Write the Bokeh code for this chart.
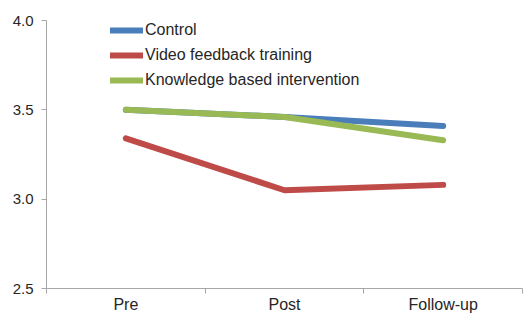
from bokeh.plotting import figure
from bokeh.models import FixedTicker, Range1d, Legend, LegendItem
from bokeh.embed import file_html
from bokeh.resources import INLINE

categories = ["Pre", "Post", "Follow-up"]
control = [3.50, 3.46, 3.41]
video = [3.34, 3.05, 3.08]
knowledge = [3.50, 3.46, 3.33]
y_ticks = [2.5, 3.0, 3.5, 4.0]

series = [
    ("Control", control, "#4a7ebb"),
    ("Video feedback training", video, "#be4b48"),
    ("Knowledge based intervention", knowledge, "#98b954"),
]

xs = [i + 0.5 for i in range(len(categories))]
bounds = list(range(len(categories) + 1))

p = figure(width=528, height=316, output_backend="svg", toolbar_location=None,
           x_range=Range1d(0, len(categories)), y_range=Range1d(2.5, 4.0),
           min_border_left=46, min_border_right=6, min_border_top=20, min_border_bottom=28)
p.outline_line_color = None
p.grid.visible = False
p.background_fill_color = "white"
p.border_fill_color = "white"

items = []
for name, vals, col in series:
    r = p.line(xs, vals, line_color=col, line_width=6, line_cap="round", line_join="round")
    items.append(LegendItem(label=name, renderers=[r]))

legend = Legend(items=items, location=(64, 198), glyph_width=33, glyph_height=20,
                label_height=20, spacing=5, padding=0, margin=0, label_standoff=2,
                border_line_color=None, background_fill_alpha=0,
                label_text_font="Liberation Sans", label_text_font_size="16px",
                label_text_color="#262626")
p.add_layout(legend, "center")

xa = p.xaxis[0]
xa.ticker = FixedTicker(ticks=xs, minor_ticks=bounds)
xa.major_label_overrides = {x: c for x, c in zip(xs, categories)}
xa.major_tick_out = 0
xa.major_tick_in = 0
xa.minor_tick_out = 5
xa.minor_tick_in = 0
xa.minor_tick_line_color = "#a6a6a6"
xa.axis_line_color = "#a6a6a6"
xa.major_label_text_font = "Liberation Sans"
xa.major_label_text_font_size = "16px"
xa.major_label_text_color = "#262626"
xa.major_label_standoff = 2

ya = p.yaxis[0]
ya.ticker = FixedTicker(ticks=y_ticks, minor_ticks=[])
ya.major_label_overrides = {t: f"{t:.1f}" for t in y_ticks}
ya.major_tick_out = 5
ya.major_tick_in = 0
ya.major_tick_line_color = "#a6a6a6"
ya.axis_line_color = "#a6a6a6"
ya.major_label_text_font = "Liberation Sans"
ya.major_label_text_font_size = "15px"
ya.major_label_text_color = "#262626"
ya.major_label_standoff = 8

open("out.html", "w").write(file_html(p, INLINE))
